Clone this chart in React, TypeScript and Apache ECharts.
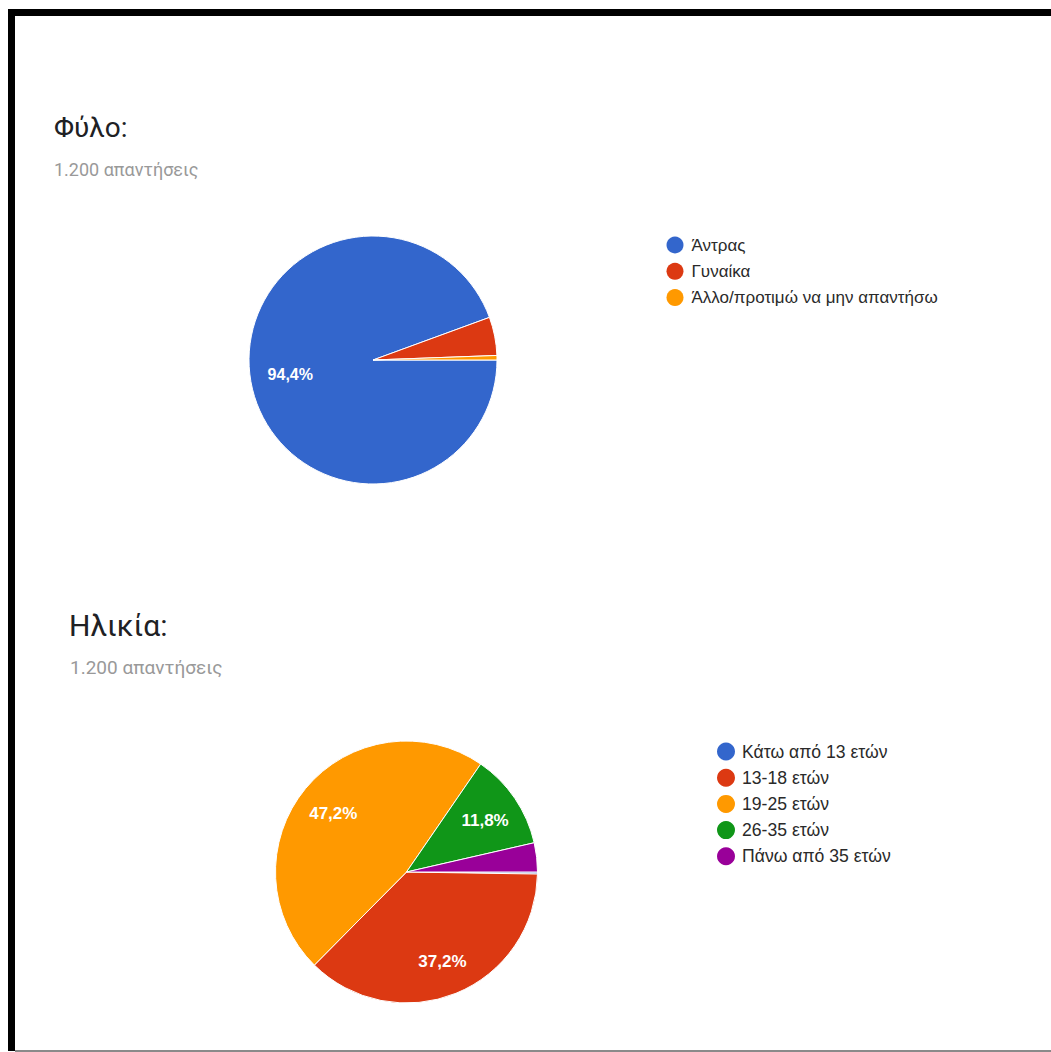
import React, { useEffect, useRef } from "react";
import * as echarts from "echarts";

const genderNames = ["Άντρας", "Γυναίκα", "Άλλο/προτιμώ να μην απαντήσω"];
const genderValues = [1133, 60, 7];
const genderColors = ["#3366cc", "#dc3912", "#ff9900"];

const ageNames = ["Κάτω από 13 ετών", "13-18 ετών", "19-25 ετών", "26-35 ετών", "Πάνω από 35 ετών"];
const ageValues = [3, 446, 566, 142, 43];
const ageColors = ["#3366cc", "#dc3912", "#ff9900", "#109618", "#990099"];

const titles = ["Φύλο:", "Ηλικία:"];
const subtitles = ["1.200 απαντήσεις", "1.200 απαντήσεις"];

function pct(values: number[], v: number) {
  const total = values.reduce((a, b) => a + b, 0);
  return ((v / total) * 100).toFixed(1).replace(".", ",") + "%";
}

function pieSeries(names: string[], values: number[], colors: string[], center: number[], r: number) {
  return {
    type: "pie",
    center,
    radius: [0, r],
    startAngle: 0,
    clockwise: true,
    avoidLabelOverlap: false,
    label: { show: false },
    labelLine: { show: false },
    emphasis: { disabled: true },
    itemStyle: { borderColor: "#ffffff", borderWidth: 1 },
    data: names.map((n, i) => ({ name: n, value: values[i], itemStyle: { color: colors[i] } })),
  };
}

function labelSeries(names: string[], values: number[], center: number[], r: number, fontSize: number, dy: number) {
  const total = values.reduce((a, b) => a + b, 0);
  return {
    type: "pie",
    center,
    radius: [0, r],
    startAngle: 0,
    clockwise: true,
    silent: true,
    avoidLabelOverlap: false,
    z: 5,
    emphasis: { disabled: true },
    itemStyle: { color: "rgba(0,0,0,0)", borderWidth: 0 },
    labelLine: { show: false },
    label: {
      show: true,
      position: "inside",
      color: "#ffffff",
      fontFamily: "Liberation Sans, Arial, sans-serif",
      fontWeight: "bold",
      fontSize,
      offset: [0, dy],
      formatter: (p: any) => (p.value / total >= 0.1 ? pct(values, p.value) : ""),
    },
    data: names.map((n, i) => ({ name: n, value: values[i] })),
  };
}

export default function App() {
  const ref = useRef<HTMLDivElement>(null);
  useEffect(() => {
    if (!ref.current) return;
    const chart = echarts.init(ref.current, undefined, { renderer: "svg" });
    const legendText = (size: number, pad: number) => ({
      color: "#2a2a2a",
      fontFamily: "Liberation Sans, Arial, sans-serif",
      fontSize: size,
      lineHeight: 14,
      padding: [0, 0, 0, pad],
    });
    chart.setOption({
      animation: false,
      backgroundColor: "#ffffff",
      legend: [
        {
          data: genderNames,
          orient: "vertical",
          left: 666.5,
          top: 236.5,
          padding: 0,
          icon: "circle",
          itemWidth: 17,
          itemHeight: 17,
          itemGap: 9.3,
          selectedMode: false,
          itemStyle: { borderWidth: 0 },
          textStyle: legendText(17, 3),
        },
        {
          data: ageNames,
          orient: "vertical",
          left: 717,
          top: 742.5,
          padding: 0,
          icon: "circle",
          itemWidth: 18,
          itemHeight: 18,
          itemGap: 8.2,
          selectedMode: false,
          itemStyle: { borderWidth: 0 },
          textStyle: legendText(17.6, 2),
        },
      ],
      series: [
        pieSeries(genderNames, genderValues, genderColors, [373, 360], 124),
        pieSeries(ageNames, ageValues, ageColors, [406.5, 872], 131),
        labelSeries(genderNames, genderValues, [373, 360], 162, 16, 0),
        labelSeries(ageNames, ageValues, [406.5, 872], 184, 17, 2),
      ],
      graphic: [
        { type: "rect", shape: { x: 8, y: 9, width: 1043, height: 7 }, style: { fill: "#000000" }, silent: true },
        { type: "rect", shape: { x: 8, y: 9, width: 7, height: 1042 }, style: { fill: "#000000" }, silent: true },
        { type: "rect", shape: { x: 15, y: 1050, width: 1036, height: 2 }, style: { fill: "#8a8a8a" }, silent: true },
        {
          type: "text", x: 54, y: 127,
          style: { text: titles[0], fill: "#202124", font: "28px Roboto", verticalAlign: "middle", align: "left" },
        },
        {
          type: "text", x: 54, y: 169,
          style: { text: subtitles[0], fill: "#999999", font: "18px Roboto", verticalAlign: "middle", align: "left" },
        },
        {
          type: "text", x: 69, y: 625,
          style: { text: titles[1], fill: "#202124", font: "30px Roboto", verticalAlign: "middle", align: "left" },
        },
        {
          type: "text", x: 70, y: 667,
          style: { text: subtitles[1], fill: "#999999", font: "19px Roboto", verticalAlign: "middle", align: "left" },
        },
      ],
    });
    return () => chart.dispose();
  }, []);
  return <div ref={ref} style={{ position: "fixed", left: 0, top: 0, width: 1051, height: 1052 }} />;
}
